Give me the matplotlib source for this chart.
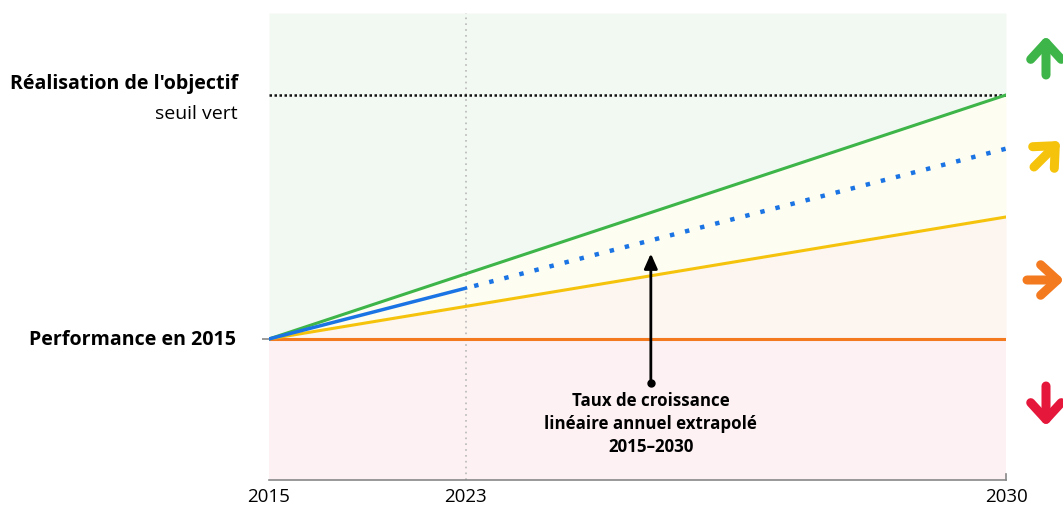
import numpy as np
import matplotlib.pyplot as plt
from matplotlib.patches import FancyArrowPatch

plt.rcParams['font.family'] = ['Open Sans', 'DejaVu Sans']

# schematic values: 0 = performance 2015, 1 = target (green threshold)
years = [2015, 2023, 2030]
tick_labels = ['2015', '2023', '2030']
green_line = [0.0, 1.0]      # 2015 -> 2030, reaches the target
yellow_line = [0.0, 0.5]     # half way to target
orange_line = [0.0, 0.0]     # no progress
blue_actual = [0.0, 0.208]   # 2015 -> 2023 observed
blue_extrap = [0.208, 0.78]  # 2023 -> 2030 extrapolated
target = 1.0
arrow_year = 2025.4
arrow_from, arrow_to = -0.18, 0.35

GREEN = '#3db549'
YELLOW = '#f5c30c'
ORANGE = '#f47a20'
BLUE = '#1b74e4'
RED = '#e5173b'


# x axis is not to scale: 2015-2023 is squeezed
def fwd(x):
    x = np.asarray(x, dtype=float)
    return np.where(x <= 2023, (x - 2015) * 0.5, 4 + (x - 2023) * 11 / 7)


def inv(t):
    t = np.asarray(t, dtype=float)
    return np.where(t <= 4, 2015 + t / 0.5, 2023 + (t - 4) * 7 / 11)


W, H = 1063, 506
fig = plt.figure(figsize=(W / 100, H / 100), dpi=100)
ax = fig.add_axes([269 / W, (H - 481) / H, (1006 - 269) / W, (481 - 14) / H])
ax.set_xscale('function', functions=(fwd, inv))
ax.set_xlim(2015, 2030)
ylo, yhi = -0.578, 1.336
ax.set_ylim(ylo, yhi)

x2 = [years[0], years[-1]]
ax.fill_between(x2, green_line, [yhi, yhi], color='#f2f9f2', lw=0)
ax.fill_between(x2, yellow_line, green_line, color='#fefdf1', lw=0)
ax.fill_between(x2, orange_line, yellow_line, color='#fdf5f0', lw=0)
ax.fill_between(x2, [ylo, ylo], orange_line, color='#fdf1f3', lw=0)

ax.axvline(years[1], color='#b8b8b8', lw=1.2, ls=(0, (1, 2.5)))
ax.plot(x2, [target, target], color='#111111', lw=1.8, ls=(0, (1, 1)))

ax.plot(x2, orange_line, color=ORANGE, lw=2.2, solid_capstyle='butt')
ax.plot(x2, yellow_line, color=YELLOW, lw=2.2)
ax.plot(x2, green_line, color=GREEN, lw=2.2)
ax.plot(years[:2], blue_actual, color=BLUE, lw=2.5)
ax.plot(years[1:], blue_extrap, color=BLUE, lw=3.2, ls=(1.5, (1, 2.5)))

ax.annotate('', xy=(arrow_year, arrow_to), xytext=(arrow_year, arrow_from),
            arrowprops=dict(arrowstyle='-|>,head_length=0.9,head_width=0.4',
                            color='black', lw=2, shrinkA=0, shrinkB=0))
ax.plot([arrow_year], [arrow_from], 'o', color='black', ms=5)
ax.text(arrow_year, arrow_from - 0.035,
        'Taux de croissance\nlinéaire annuel extrapolé\n2015–2030',
        ha='center', va='top', fontsize=12.2, fontweight='bold',
        linespacing=1.33)

for s in ['top', 'right', 'left']:
    ax.spines[s].set_visible(False)
ax.spines['bottom'].set_color('#888888')
ax.spines['bottom'].set_linewidth(1.2)
ax.set_xticks(years)
ax.set_xticklabels(tick_labels, fontsize=13.5)
ax.tick_params(axis='x', length=0, pad=5)
ax.set_yticks([0])
ax.set_yticklabels([''])
ax.tick_params(axis='y', length=5, color='#888888', width=1.2)
# small inward tick at the right end of the axis
ax.plot([2030, 2030], [ylo, ylo + 0.025], color='#888888', lw=1.2,
        clip_on=False)

# left labels
fig.text(238 / W, (H - 84) / H, "Réalisation de l'objectif", ha='right',
         va='center', fontsize=14.1, fontweight='bold')
fig.text(238 / W, (H - 114) / H, 'seuil vert', ha='right', va='center',
         fontsize=14)
fig.text(236 / W, (H - 340) / H, 'Performance en 2015', ha='right',
         va='center', fontsize=14.1, fontweight='bold')

# trend arrows on the right
arrows = [
    (GREEN, (1046, H - 76), (1046, H - 37)),
    (YELLOW, (1034, H - 168), (1060, H - 142)),
    (ORANGE, (1027, H - 281), (1064, H - 281)),
    (RED, (1046, H - 387), (1046, H - 427)),
]
for col, tail, tip in arrows:
    fig.add_artist(FancyArrowPatch(
        tail, tip, transform=None,
        arrowstyle='->,head_length=0.6,head_width=0.55',
        mutation_scale=20, color=col, lw=6.5,
        capstyle='round', joinstyle='round', shrinkA=0, shrinkB=0))

fig.savefig('out.png', dpi=100)
